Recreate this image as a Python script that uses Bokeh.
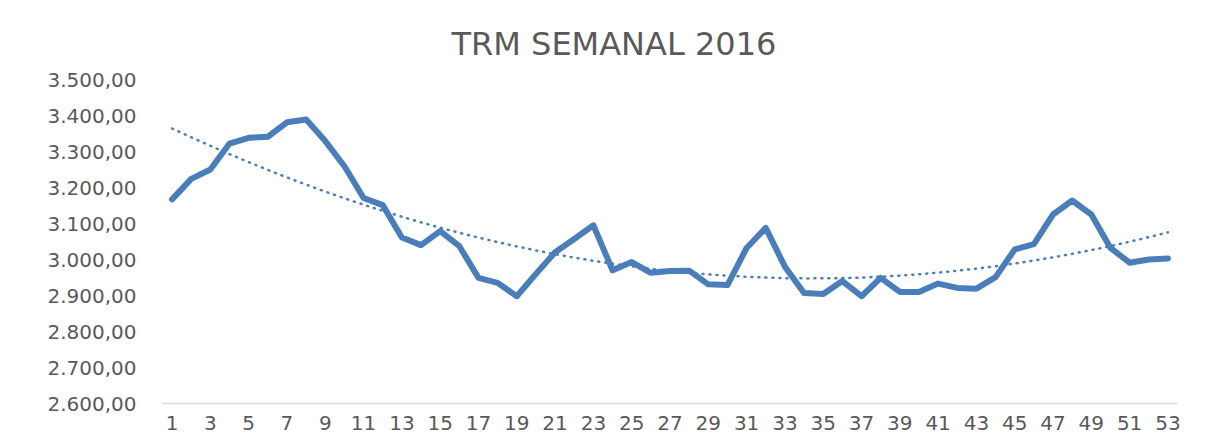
import numpy as np
from bokeh.plotting import figure
from bokeh.models import Range1d, FixedTicker
from bokeh.embed import file_html
from bokeh.resources import INLINE

# --- data -------------------------------------------------------------
title_text = "TRM SEMANAL 2016"
weeks = list(range(1, 54))
trm = [3167, 3224, 3250, 3322, 3338, 3341, 3381, 3389, 3329, 3259,
       3171, 3151, 3061, 3040, 3079, 3037, 2949, 2935, 2898, 2960,
       3020, 3057, 3095, 2970, 2993, 2963, 2968, 2969, 2931, 2929,
       3032, 3088, 2980, 2907, 2904, 2940, 2898, 2949, 2910, 2910,
       2933, 2921, 2919, 2951, 3028, 3043, 3125, 3164, 3125, 3032,
       2991, 3000, 3003]
y_ticks = [2600, 2700, 2800, 2900, 3000, 3100, 3200, 3300, 3400, 3500]
y_tick_labels = ["2.600,00", "2.700,00", "2.800,00", "2.900,00", "3.000,00",
                 "3.100,00", "3.200,00", "3.300,00", "3.400,00", "3.500,00"]
x_ticks = list(range(1, 54, 2))
x_tick_labels = [str(v) for v in x_ticks]

# polynomial (order 2) trend line, as in the spreadsheet
coef = np.polyfit(weeks, trm, 2)
trend = list(np.polyval(coef, weeks))

BLUE = "#4A7EBB"
GRAY_TXT = "#595959"
FONT = "DejaVu Sans"

p = figure(width=1200, height=437, output_backend="svg", toolbar_location=None,
           x_range=Range1d(0.5, 53.5), y_range=Range1d(2600, 3500),
           min_border_left=162, min_border_right=23, min_border_top=79,
           min_border_bottom=34, title=title_text)

p.title.align = "left"
p.title.offset = 289
p.title.text_font = FONT
p.title.text_font_size = "32px"
p.title.text_font_style = "normal"
p.title.text_color = GRAY_TXT
p.title.standoff = 33

p.outline_line_color = None
p.xgrid.visible = False
p.ygrid.visible = False

p.yaxis.ticker = FixedTicker(ticks=y_ticks)
p.yaxis.major_label_overrides = dict(zip(y_ticks, y_tick_labels))
p.yaxis.axis_line_color = None
p.yaxis.major_tick_line_color = None
p.yaxis.minor_tick_line_color = None
p.yaxis.major_label_standoff = 20
p.yaxis.major_label_text_font = FONT
p.yaxis.major_label_text_font_size = "20px"
p.yaxis.major_label_text_color = GRAY_TXT

p.xaxis.ticker = FixedTicker(ticks=x_ticks)
p.xaxis.major_label_overrides = dict(zip(x_ticks, x_tick_labels))
p.xaxis.axis_line_color = "#D9D9D9"
p.xaxis.axis_line_width = 1.5
p.xaxis.major_tick_line_color = None
p.xaxis.minor_tick_line_color = None
p.xaxis.major_label_standoff = 6
p.xaxis.major_label_text_font = FONT
p.xaxis.major_label_text_font_size = "20px"
p.xaxis.major_label_text_color = GRAY_TXT

p.line(weeks, trm, line_color=BLUE, line_width=6, line_join="round",
       line_cap="round")
p.line(weeks, trend, line_color=BLUE, line_width=2.5, line_dash="1 6",
       line_cap="round")

open("out.html", "w").write(file_html(p, INLINE))
